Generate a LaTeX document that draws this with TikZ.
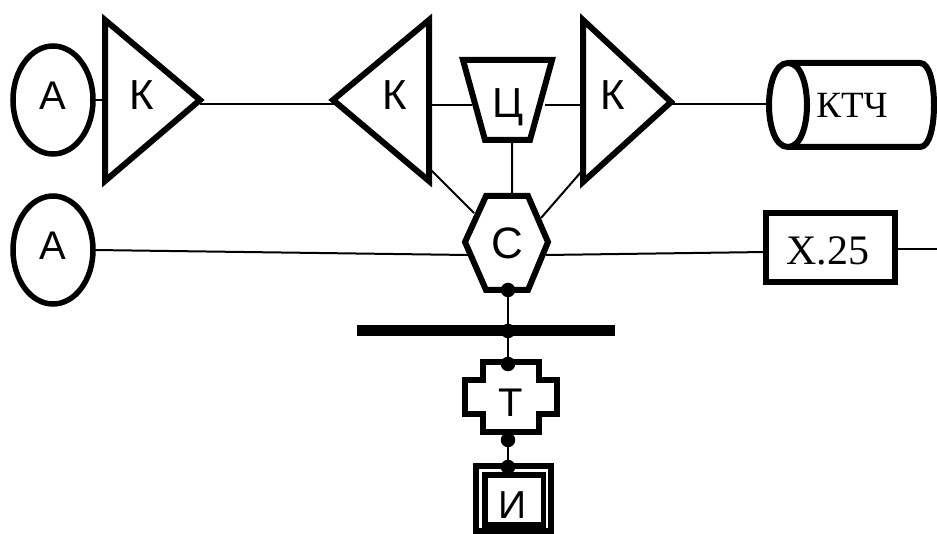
\documentclass[tikz,border=0pt]{standalone}
\usepackage{fontspec}
\setmainfont{Liberation Sans}
\newfontfamily\serifcyr{Liberation Serif}
\usetikzlibrary{shapes.geometric}
\tikzset{x=1pt,y=-1pt,
 thickline/.style={line width=6pt,line join=miter,miter limit=20},
 wire/.style={line width=2pt},
 lab/.style={inner sep=0pt,anchor=base},
 dotn/.style={circle,fill=black,inner sep=0pt,minimum size=14.5pt}}
\newcommand{\labfont}[1]{\fontsize{#1}{#1}\selectfont}
\begin{document}
\begin{tikzpicture}
\useasboundingbox (0,0) rectangle (937,534);
\coordinate (amp1t) at (105,20); \coordinate (amp1b) at (105,181); \coordinate (amp1r) at (200,100);
\coordinate (amp2t) at (429,20); \coordinate (amp2b) at (429,181); \coordinate (amp2l) at (333,100);
\coordinate (amp3t) at (583,20); \coordinate (amp3b) at (583,182); \coordinate (amp3r) at (671,102);
\node[draw,line width=5.5pt,ellipse,minimum width=80pt,minimum height=108pt,inner sep=0pt] (a1) at (53,100) {};
\node[draw,line width=5.5pt,ellipse,minimum width=80pt,minimum height=108pt,inner sep=0pt] (a2) at (53,250) {};
\node[lab,font=\labfont{40}] at (53,110) {А};
\node[lab,font=\labfont{40}] at (53,260) {А};
% wires
\coordinate (w1a) at (104,100); \coordinate (w1b) at (94,100);
\draw[wire] (w1b) -- (w1a);
\coordinate (w5a) at (200,104); \coordinate (w5b) at (334,104);
\draw[wire] (w5a) -- (w5b);
\coordinate (amp2r) at (429,105); \coordinate (amp3l) at (583,105);
\coordinate (cl) at (472,105); \coordinate (cr) at (545,105);
\draw[wire] (amp2r) -- (cl) (cr) -- (amp3l);
\draw[thickline,fill=white] (amp1t) -- (amp1r) -- (amp1b) -- cycle;
\draw[thickline,fill=white] (amp2t) -- (amp2l) -- (amp2b) -- cycle;
\draw[thickline,fill=white] (amp3t) -- (amp3r) -- (amp3b) -- cycle;
\node[lab,font=\labfont{42}] at (141.5,110) {К};
\node[lab,font=\labfont{42}] at (395,110) {К};
\node[lab,font=\labfont{42}] at (612.5,110) {К};
% trapezoid
\draw[thickline,fill=white] (463,60) -- (552,60) -- (530,140) -- (485,140) -- cycle;
\node[lab,font=\labfont{42}] at (508.5,118) {Ц};
% hexagon
\coordinate (h1) at (465,242); \coordinate (h2) at (486,196); \coordinate (h3) at (528,196);
\coordinate (h4) at (548,242); \coordinate (h5) at (528,290); \coordinate (h6) at (486,290);
\coordinate (d1a) at (431,170); \coordinate (d1b) at (474,213);
\coordinate (d2a) at (581,172); \coordinate (d2b) at (541,218);
\coordinate (d3a) at (512,140); \coordinate (d3b) at (512,196);
\draw[wire] (d1a) -- (d1b) (d2a) -- (d2b) (d3a) -- (d3b);
\coordinate (w2a) at (94,250); \coordinate (w2b) at (468,255);
\coordinate (w3a) at (546,255); \coordinate (w3b) at (766,252);
\draw[wire] (w2a) -- (w2b) (w3a) -- (w3b);
\draw[thickline,fill=white] (h1) -- (h2) -- (h3) -- (h4) -- (h5) -- (h6) -- cycle;
\node[lab,font=\labfont{44}] at (507,259) {С};
% cylinder
\coordinate (w4a) at (671,104); \coordinate (w4b) at (770,104);
\draw[wire] (w4a) -- (w4b);
\begin{scope}
\clip (700,0) rectangle (937,534);
\draw[thickline,fill=white] (788,63) -- (920,63) .. controls (930,63) and (934,85) .. (934,105) .. controls (934,125) and (930,147) .. (920,147) -- (788,147);
\draw[thickline,fill=white] (788,63) .. controls (801,63) and (807,85) .. (807,105) .. controls (807,125) and (801,147) .. (788,147) .. controls (775,147) and (769,125) .. (769,105) .. controls (769,85) and (775,63) .. (788,63) -- cycle;
\end{scope}
\node[lab,font=\serifcyr\labfont{37}] at (852,118) {КТЧ};
% X.25
\node[draw,thickline,minimum width=129pt,minimum height=69pt,inner sep=0pt] (x) at (830.5,247.5) {};
\node[lab,font=\serifcyr\labfont{42}] at (828,265) {Х.25};
\coordinate (xend) at (937,249);
\draw[wire] (x.east |- xend) -- (xend);
% bus
\draw[line width=11pt] (357,331) -- (615,331);
\coordinate (v0) at (508,290);
\coordinate (v1) at (508,470);
\draw[wire] (v0) -- (v1);
% T
\draw[thickline,fill=white] (483,362) -- (539,362) -- (539,380) -- (557,380) -- (557,414) -- (539,414) -- (539,432) -- (483,432) -- (483,414) -- (465,414) -- (465,380) -- (483,380) -- cycle;
\node[lab,font=\labfont{40}] at (511,417) {Т};
% I
\draw[thickline,fill=white] (476,466) rectangle (551,531);
\draw[line width=5.5pt] (485,475) rectangle (543.5,525);
\node[lab,font=\labfont{39}] at (513,518) {И};
\node[dotn] at (508,290) {};
\node[dotn] at (508,331) {};
\node[dotn] at (508,364) {};
\node[dotn] at (508,440) {};
\node[dotn] at (508,467) {};
\end{tikzpicture}
\end{document}
